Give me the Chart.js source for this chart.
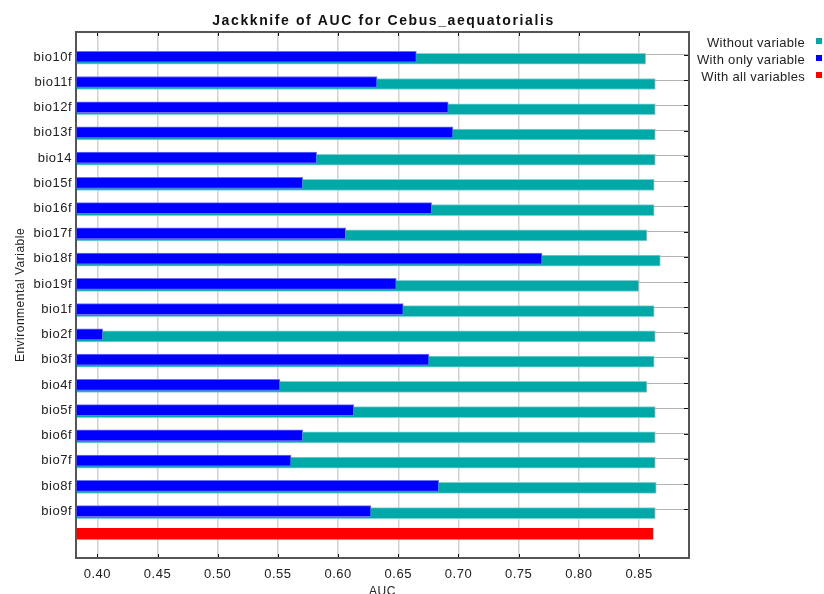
<!DOCTYPE html>
<html>
<head>
<meta charset="utf-8">
<script src="https://cdn.jsdelivr.net/npm/chart.js@4/dist/chart.umd.min.js"></script>
<style>
html,body{margin:0;padding:0;background:#fff;}
#wrap{width:824px;height:594px;}
</style>
</head>
<body>
<div id="wrap"><canvas id="c" width="824" height="594"></canvas></div>
<script>
const categories = ['bio10f','bio11f','bio12f','bio13f','bio14','bio15f','bio16f','bio17f','bio18f','bio19f','bio1f','bio2f','bio3f','bio4f','bio5f','bio6f','bio7f','bio8f','bio9f'];
const withoutVariable = [0.8555,0.8635,0.8635,0.8635,0.8635,0.8626,0.8626,0.8566,0.8677,0.8499,0.8626,0.8635,0.8626,0.8566,0.8635,0.8635,0.8635,0.8643,0.8635];
const withOnlyVariable = [0.6650,0.6323,0.6915,0.6954,0.5822,0.5706,0.6777,0.6063,0.7694,0.6483,0.6541,0.4045,0.6755,0.5517,0.6130,0.5706,0.5609,0.6836,0.6273];
const withAllVariables = [0.8616];
const xTicks = [0.40,0.45,0.50,0.55,0.60,0.65,0.70,0.75,0.80,0.85];
const seriesNames = ['Without variable','With only variable','With all variables'];
const titleText = 'Jackknife of AUC for Cebus_aequatorialis';

const COL = {cyan:'#00a8a8', blue:'#0000ff', red:'#ff0000'};
const OFF = {blue:0.07, cyan:0.15, red:-0.03};
const FONT = 'Liberation Sans, Arial, sans-serif';

const spacing = {
  id:'spacing',
  beforeDraw(chart){ chart.ctx.letterSpacing = '0.5px'; }
};

const frame = {
  id:'frame',
  afterDraw(chart){
    const {ctx, chartArea:a, scales:{x,y}} = chart;
    ctx.save();
    ctx.strokeStyle = '#111';
    ctx.lineWidth = 1;
    ctx.beginPath();
    xTicks.forEach(v=>{
      const px = Math.round(x.getPixelForValue(v))+0.5;
      ctx.moveTo(px,a.top); ctx.lineTo(px,a.top+4);
      ctx.moveTo(px,a.bottom); ctx.lineTo(px,a.bottom-4);
    });
    categories.forEach((c,i)=>{
      const py = Math.round(y.getPixelForValue(i))+0.5;
      ctx.moveTo(a.right,py); ctx.lineTo(a.right-5,py);
    });
    ctx.stroke();
    ctx.strokeStyle = '#555';
    ctx.lineWidth = 2;
    ctx.strokeRect(a.left, a.top, a.right-a.left, a.bottom-a.top);
    // title
    ctx.letterSpacing = '1.6px';
    ctx.font = 'bold 14px ' + FONT;
    ctx.fillStyle = '#111';
    ctx.textAlign = 'center';
    ctx.textBaseline = 'middle';
    ctx.fillText(titleText, (a.left+a.right)/2 + 1, 21);
    // legend
    ctx.letterSpacing = '0.3px';
    ctx.font = '13px ' + FONT;
    ctx.textAlign = 'right';
    const cols = [COL.cyan, COL.blue, COL.red];
    seriesNames.forEach((n,i)=>{
      const yy = 43 + i*17;
      ctx.fillStyle = '#222';
      ctx.fillText(n, 805, yy);
      ctx.fillStyle = cols[i];
      ctx.fillRect(816, yy-5, 6, 6);
    });
    ctx.restore();
  }
};

new Chart(document.getElementById('c'), {
  type:'bar',
  data:{
    datasets:[
      {label:seriesNames[0], data:withoutVariable.map((v,i)=>({x:v,y:i+OFF.cyan})), backgroundColor:COL.cyan, borderColor:'#7fd3d3', borderWidth:1, barThickness:11, grouped:false, order:2},
      {label:seriesNames[1], data:withOnlyVariable.map((v,i)=>({x:v,y:i+OFF.blue})), backgroundColor:COL.blue, borderColor:'#7070ff', borderWidth:1, barThickness:11, grouped:false, order:1},
      {label:seriesNames[2], data:withAllVariables.map(v=>({x:v,y:categories.length+OFF.red})), backgroundColor:COL.red, borderWidth:0, barThickness:11, grouped:false, order:0}
    ]
  },
  options:{
    indexAxis:'y',
    responsive:false,
    animation:false,
    layout:{padding:{left:0,right:135,top:32,bottom:0}},
    plugins:{
      legend:{display:false},
      tooltip:{enabled:false},
      title:{display:false}
    },
    scales:{
      x:{
        type:'linear', min:0.3823, max:0.8915,
        afterBuildTicks:s=>{s.ticks = xTicks.map(v=>({value:v}));},
        afterFit:s=>{s.height = 36;},
        grid:{color:'#d2d2d2', lineWidth:1.5, drawTicks:false},
        border:{display:false},
        ticks:{padding:9, color:'#222', font:{family:FONT, size:13}, callback:v=>Number(v).toFixed(2)},
        title:{display:true, text:'AUC', color:'#222', font:{family:FONT, size:12}, padding:{top:0,bottom:-5}}
      },
      y:{
        type:'linear', reverse:true, min:-0.91, max:19.93, offset:false,
        afterBuildTicks:s=>{s.ticks = categories.map((c,i)=>({value:i}));},
        afterFit:s=>{s.width = 76;},
        grid:{color:'#b4b4b4', lineWidth:1, drawTicks:false, offset:false},
        border:{display:false},
        ticks:{padding:4, labelOffset:2, color:'#222', font:{family:FONT, size:13}, callback:(v)=>categories[Math.round(v)] ?? ''},
        title:{display:true, text:'Environmental Variable', color:'#222', font:{family:FONT, size:12}, padding:{top:13,bottom:0}}
      }
    }
  },
  plugins:[spacing, frame]
});
</script>
</body>
</html>
